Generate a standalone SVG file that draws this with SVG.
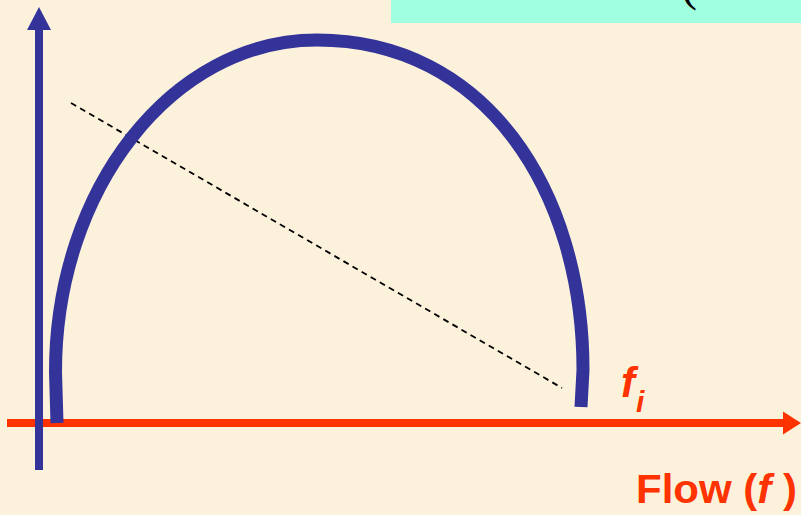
<svg xmlns="http://www.w3.org/2000/svg" width="801" height="515" viewBox="0 0 801 515">
<style>
.lbl{font-family:"Liberation Sans",Arial,sans-serif;font-weight:bold;fill:#FF3300}
.blue{stroke:#333399;fill:none}
.red{stroke:#FF3300;fill:none}
</style>
<rect width="801" height="515" fill="#FCF2DC"/>
<g id="title-box">
<rect x="391" y="0" width="410" height="23" fill="#A0FFE0"/>
<text x="681" y="0" font-family="'Liberation Serif',serif" font-size="48" fill="#000">(</text>
</g>
<g id="connectors">
<g id="x-axis">
<line class="red" x1="7" y1="423" x2="784" y2="423" stroke-width="8"/>
<polygon points="801,423 783,411.5 783,434.5" fill="#FF3300"/>
</g>
<g id="y-axis">
<line class="blue" x1="39" y1="470" x2="39" y2="29" stroke-width="8"/>
<polygon points="39,7 27,30 51,30" fill="#333399"/>
</g>
<line id="dashed" x1="71" y1="103" x2="562" y2="388" stroke="#000" stroke-width="1.8" stroke-dasharray="6 4.5"/>
</g>
<g id="curve">
<path class="blue" stroke-width="13" d="M57,423 L55.5,372 C55.5,189 172,40 317,40 C485,40 583,190 583,370 L581,407"/>
</g>
<g id="label-fi">
<text class="lbl" x="621" y="397" font-size="42" font-style="italic">f</text>
<text class="lbl" x="636" y="412" font-size="30" font-style="italic">i</text>
</g>
<g id="label-flow">
<text class="lbl" x="636" y="503" font-size="40" textLength="161" lengthAdjust="spacingAndGlyphs">Flow (<tspan font-style="italic">f</tspan> )</text>
</g>
</svg>
